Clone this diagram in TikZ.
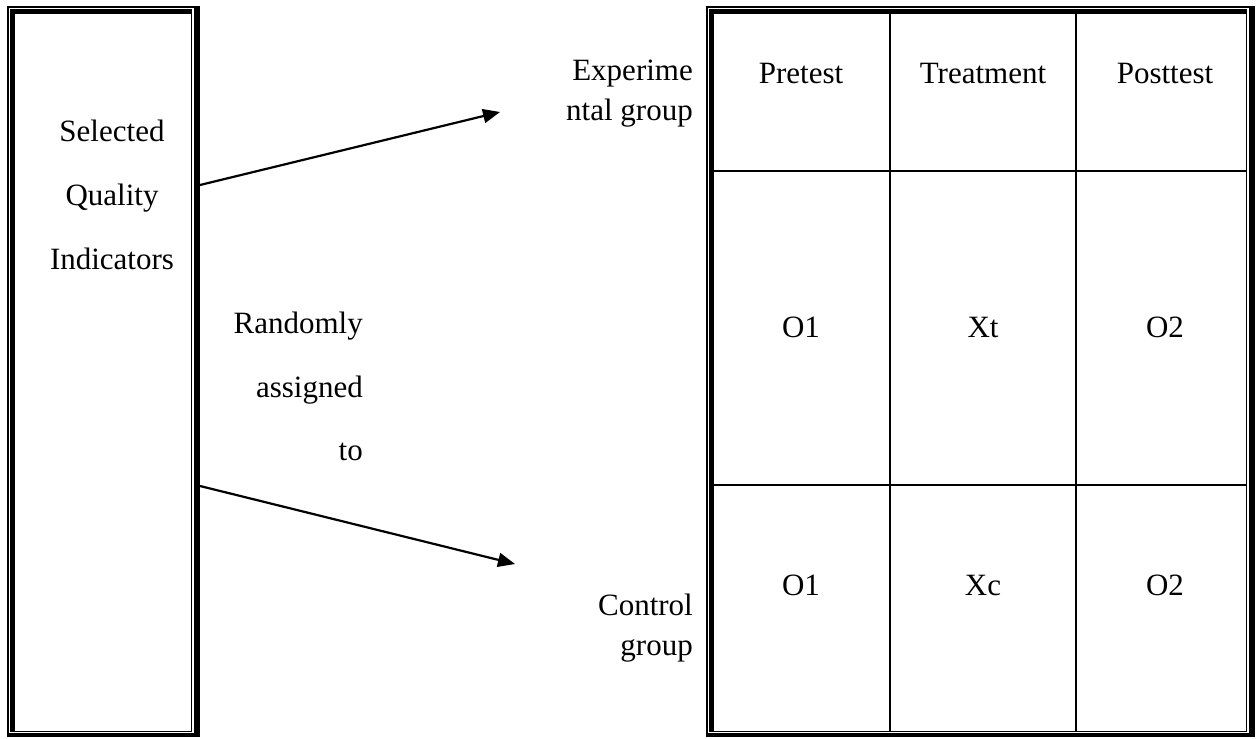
\documentclass[tikz,border=0pt]{standalone}
\usepackage{fontspec}
\setmainfont{Liberation Serif}
\usetikzlibrary{arrows.meta}

% Double-ruled frame: thin/thick outer rectangle and thick/thin inner rectangle.
% #1,#2 = outer top-left, #3,#4 = outer bottom-right (pixel units)
\newcommand{\ruledframe}[4]{%
  % outer rectangle: thin top and left, heavy right and bottom
  \draw[thinrule] (#1,#2+0.75) -- (#3,#2+0.75);
  \draw[thinrule] (#1+0.75,#2) -- (#1+0.75,#4);
  \fill (#3-6,#2) rectangle (#3,#4);
  \fill (#1,#4-4) rectangle (#3,#4);
  % inner rectangle: heavy top and left, thin right and bottom
  \fill (#1+3,#2+3) rectangle (#3-8,#2+8);
  \fill (#1+3,#2+3) rectangle (#1+8,#4-5);
  \draw[thinrule] (#3-8.75,#2+3) -- (#3-8.75,#4-5);
  \draw[thinrule] (#1+3,#4-5.75) -- (#3-8,#4-5.75);
}

\begin{document}
\begin{tikzpicture}[x=1pt,y=-1pt,
  thinrule/.style={line width=1.5pt},
  gridrule/.style={line width=1.6pt},
  lbl/.style={inner sep=0pt,font=\fontsize{31}{37}\selectfont},
  link/.style={line width=2.2pt,-{Triangle[length=17pt,width=14pt]}}]
\useasboundingbox (0,0) rectangle (1259,739);

% left box
\ruledframe{7}{6}{200}{737}
\node[lbl,anchor=base] (sel) at (112,141) {Selected};
\node[lbl,anchor=base] (qua) at (112,205) {Quality};
\node[lbl,anchor=base] (ind) at (112,269) {Indicators};

% middle labels
\node[lbl,anchor=base east] (rnd) at (363,333) {Randomly};
\node[lbl,anchor=base east] (asg) at (363,397) {assigned};
\node[lbl,anchor=base east] (to) at (363,460) {to};

\node[lbl,anchor=base east] (exp1) at (693,80) {Experime};
\node[lbl,anchor=base east] (exp2) at (693,120) {ntal group};
\node[lbl,anchor=base east] (ctl1) at (693,615) {Control};
\node[lbl,anchor=base east] (ctl2) at (693,655) {group};

% design table
\ruledframe{706}{6}{1255}{737}
\draw[gridrule] (714,171) -- (1247,171);
\draw[gridrule] (714,485) -- (1247,485);
\draw[gridrule] (890,14) -- (890,732);
\draw[gridrule] (1076,14) -- (1076,732);

\node[lbl,anchor=base] (pre) at (801,83) {Pretest};
\node[lbl,anchor=base] (trt) at (983,83) {Treatment};
\node[lbl,anchor=base] (post) at (1165,83) {Posttest};
\node[lbl,anchor=base] (eo1) at (801,337) {O1};
\node[lbl,anchor=base] (ext) at (983,337) {Xt};
\node[lbl,anchor=base] (eo2) at (1165,337) {O2};
\node[lbl,anchor=base] (co1) at (801,595) {O1};
\node[lbl,anchor=base] (cxc) at (983,595) {Xc};
\node[lbl,anchor=base] (co2) at (1165,595) {O2};

% assignment arrows
\coordinate (srcA) at (200,185);
\coordinate (srcB) at (200,486);
\coordinate (tipA) at (500,112);
\coordinate (tipB) at (515,564);
\draw[link] (srcA) -- (tipA);
\draw[link] (srcB) -- (tipB);
\end{tikzpicture}
\end{document}
